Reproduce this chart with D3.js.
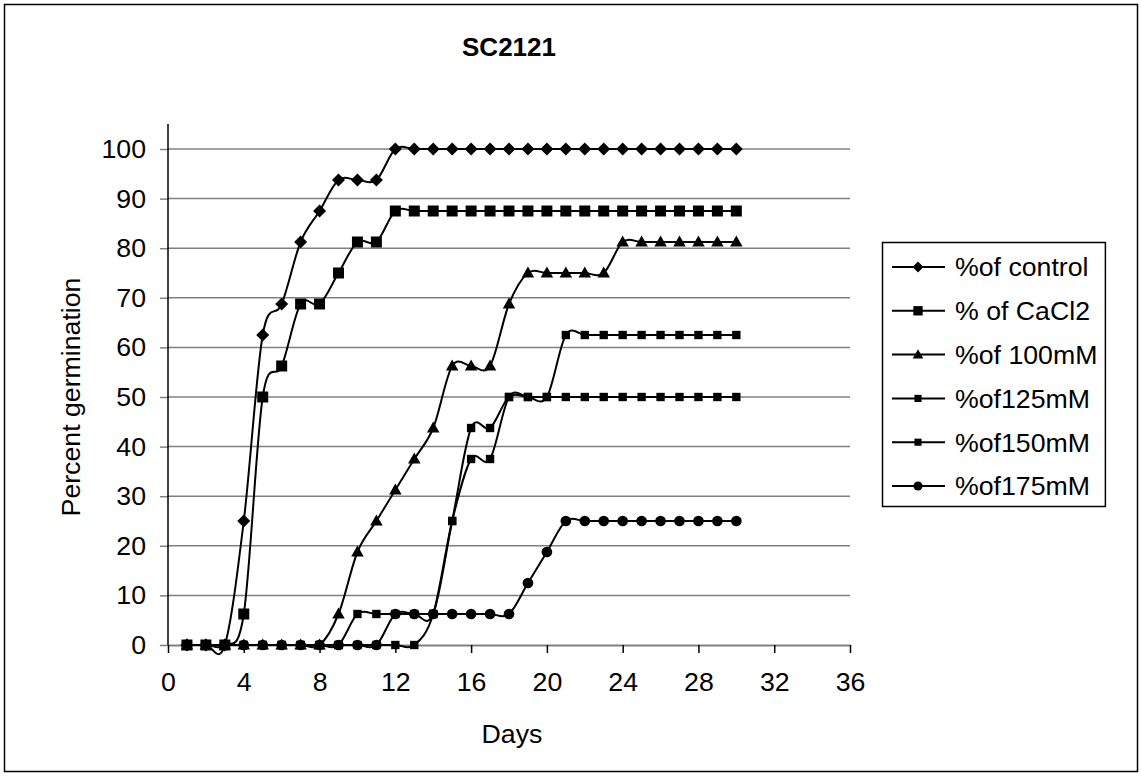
<!DOCTYPE html>
<html>
<head>
<meta charset="utf-8">
<script src="https://cdn.jsdelivr.net/npm/d3@7"></script>
<style>
  html, body { margin: 0; padding: 0; background: #fff; }
  svg { display: block; font-family: "Liberation Sans", Arial, sans-serif; }
</style>
</head>
<body>
<svg id="chart" width="1142" height="776"></svg>
<script>
// Germination over time for SC2121 under different treatments
const days = d3.range(1, 31);

const seriesNames = ["%of control", "% of CaCl2", "%of 100mM", "%of125mM", "%of150mM", "%of175mM"];

const control = [0, 0, 0, 25, 62.5, 68.75, 81.25, 87.5, 93.75, 93.75, 93.75,
  100, 100, 100, 100, 100, 100, 100, 100, 100, 100, 100, 100, 100, 100, 100, 100, 100, 100, 100];
const cacl2 = [0, 0, 0, 6.25, 50, 56.25, 68.75, 68.75, 75, 81.25, 81.25,
  87.5, 87.5, 87.5, 87.5, 87.5, 87.5, 87.5, 87.5, 87.5, 87.5, 87.5, 87.5, 87.5, 87.5, 87.5, 87.5, 87.5, 87.5, 87.5];
const mM100 = [0, 0, 0, 0, 0, 0, 0, 0, 6.25, 18.75, 25, 31.25, 37.5, 43.75, 56.25, 56.25, 56.25, 68.75,
  75, 75, 75, 75, 75, 81.25, 81.25, 81.25, 81.25, 81.25, 81.25, 81.25];
const mM125 = [0, 0, 0, 0, 0, 0, 0, 0, 0, 6.25, 6.25, 6.25, 6.25, 6.25, 25, 43.75, 43.75, 50, 50, 50,
  62.5, 62.5, 62.5, 62.5, 62.5, 62.5, 62.5, 62.5, 62.5, 62.5];
const mM150 = [0, 0, 0, 0, 0, 0, 0, 0, 0, 0, 0, 0, 0, 6.25, 25, 37.5, 37.5, 50, 50, 50,
  50, 50, 50, 50, 50, 50, 50, 50, 50, 50];
const mM175 = [0, 0, 0, 0, 0, 0, 0, 0, 0, 0, 0, 6.25, 6.25, 6.25, 6.25, 6.25, 6.25, 6.25, 12.5, 18.75,
  25, 25, 25, 25, 25, 25, 25, 25, 25, 25];

const xTicks = [0, 4, 8, 12, 16, 20, 24, 28, 32, 36];
const yTicks = [0, 10, 20, 30, 40, 50, 60, 70, 80, 90, 100];

const seriesValues = [control, cacl2, mM100, mM125, mM150, mM175];
const markerKinds = ["diamond", "square", "triangle", "smallSquare", "smallSquare", "circle"];

const FONT = 26.7;
const svg = d3.select("#chart");
const W = 1142, H = 776;

// outer frame
svg.append("rect")
  .attr("x", 4.5).attr("y", 4.5)
  .attr("width", W - 9).attr("height", H - 9)
  .attr("fill", "#fff").attr("stroke", "#000").attr("stroke-width", 1.5);

const plot = { left: 168, right: 850, top: 124, bottom: 645 };

const x = d3.scaleLinear().domain([0, 36]).range([plot.left, plot.right]);
const y = d3.scaleLinear().domain([0, 100]).range([plot.bottom, 149]);

// horizontal gridlines
svg.append("g")
  .selectAll("line")
  .data(yTicks.filter(d => d > 0))
  .join("line")
  .attr("x1", plot.left).attr("x2", plot.right)
  .attr("y1", d => y(d)).attr("y2", d => y(d))
  .attr("stroke", "#808080").attr("stroke-width", 1.5);

// y axis
const yAxis = svg.append("g")
  .attr("transform", `translate(${plot.left},0)`)
  .call(d3.axisLeft(y).tickValues(yTicks).tickSize(8).tickPadding(14).tickSizeOuter(0));
yAxis.select(".domain").remove();
yAxis.selectAll(".tick line").attr("stroke", "#808080").attr("stroke-width", 1.5);
yAxis.selectAll(".tick text").attr("font-size", FONT).attr("fill", "#000")
  .attr("font-family", "'Liberation Sans', Arial, sans-serif");
svg.append("line")
  .attr("x1", plot.left).attr("x2", plot.left)
  .attr("y1", plot.top).attr("y2", plot.bottom)
  .attr("stroke", "#000").attr("stroke-width", 1.5);

// x axis
const xAxis = svg.append("g")
  .attr("transform", `translate(0,${plot.bottom})`)
  .call(d3.axisBottom(x).tickValues(xTicks).tickSize(8).tickPadding(19).tickSizeOuter(0));
xAxis.select(".domain").attr("stroke", "#808080").attr("stroke-width", 2);
xAxis.selectAll(".tick line").attr("stroke", "#000").attr("stroke-width", 1.5);
xAxis.selectAll(".tick text").attr("font-size", FONT).attr("fill", "#000")
  .attr("font-family", "'Liberation Sans', Arial, sans-serif");

// marker shapes
function markerPath(kind, scale) {
  const s = scale || 1;
  if (kind === "diamond") {
    const r = 6.5 * s;
    return `M0,${-r}L${r},0L0,${r}L${-r},0Z`;
  }
  if (kind === "square") return d3.symbol(d3.symbolSquare, 121 * s * s)();
  if (kind === "triangle") {
    const h = 11 * s, w = 12.5 * s;
    return `M0,${-h * 0.58}L${w / 2},${h * 0.42}L${-w / 2},${h * 0.42}Z`;
  }
  if (kind === "smallSquare") return d3.symbol(d3.symbolSquare, 70 * s * s)();
  return d3.symbol(d3.symbolCircle, 90 * s * s)();
}

const line = d3.line()
  .x((d, i) => x(days[i]))
  .y(d => y(d))
  .curve(d3.curveCatmullRom.alpha(0));

const seriesG = svg.append("g");
seriesValues.forEach((vals, si) => {
  const g = seriesG.append("g");
  g.append("path")
    .attr("d", line(vals))
    .attr("fill", "none").attr("stroke", "#000").attr("stroke-width", 2);
  g.selectAll("path.mk")
    .data(vals)
    .join("path")
    .attr("class", "mk")
    .attr("d", markerPath(markerKinds[si]))
    .attr("transform", (d, i) => `translate(${x(days[i])},${y(d)})`)
    .attr("fill", "#000");
});

// title
svg.append("text")
  .attr("x", 509).attr("y", 56)
  .attr("text-anchor", "middle")
  .attr("font-size", 26).attr("font-weight", "bold")
  .text("SC2121");

// axis titles
svg.append("text")
  .attr("x", 512).attr("y", 743)
  .attr("text-anchor", "middle")
  .attr("font-size", FONT)
  .text("Days");
svg.append("text")
  .attr("transform", "translate(80,397) rotate(-90)")
  .attr("text-anchor", "middle")
  .attr("font-size", FONT)
  .text("Percent germination");

// legend
const rowY = d3.scaleLinear().domain([0, 5]).range([267, 486]);
const legendG = svg.append("g");
const legendBox = legendG.append("rect")
  .attr("fill", "#fff").attr("stroke", "#000").attr("stroke-width", 1.5);
const lg = legendG.selectAll("g")
  .data(seriesNames)
  .join("g")
  .attr("transform", (d, i) => `translate(0,${rowY(i)})`);
lg.append("line")
  .attr("x1", 892).attr("x2", 945).attr("y1", 0).attr("y2", 0)
  .attr("stroke", "#000").attr("stroke-width", 2);
lg.append("path")
  .attr("d", (d, i) => markerPath(markerKinds[i], 0.85))
  .attr("transform", "translate(918,0)")
  .attr("fill", "#000");
const labels = lg.append("text")
  .attr("x", 955).attr("y", 0).attr("dy", "0.35em")
  .attr("font-size", FONT)
  .text(d => d);
let maxRight = 0;
labels.each(function () { const b = this.getBBox(); maxRight = Math.max(maxRight, b.x + b.width); });
legendBox
  .attr("x", 882.5).attr("y", 242.5)
  .attr("width", maxRight + 8 - 882.5).attr("height", 264);
</script>
</body>
</html>
